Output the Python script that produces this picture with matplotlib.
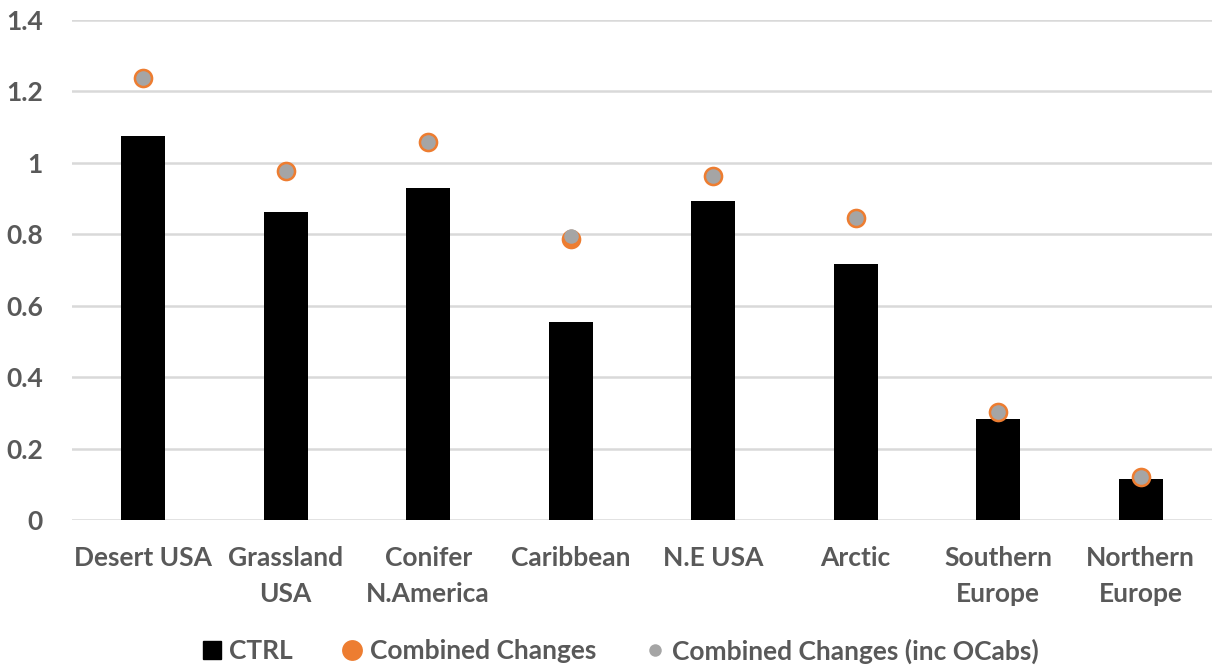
import matplotlib
matplotlib.use("Agg")
import matplotlib.pyplot as plt
from matplotlib.lines import Line2D
from matplotlib.patches import Patch

categories = ["Desert USA", "Grassland\nUSA", "Conifer\nN.America", "Caribbean",
              "N.E USA", "Arctic", "Southern\nEurope", "Northern\nEurope"]
ctrl = [1.076, 0.863, 0.930, 0.555, 0.894, 0.717, 0.283, 0.115]
combined = [1.238, 0.978, 1.059, 0.787, 0.964, 0.846, 0.303, 0.120]
combined_ocabs = [1.238, 0.978, 1.059, 0.795, 0.964, 0.846, 0.303, 0.121]
yticks = [0, 0.2, 0.4, 0.6, 0.8, 1, 1.2, 1.4]
ytick_labels = ["0", "0.2", "0.4", "0.6", "0.8", "1", "1.2", "1.4"]

ORANGE = "#ED7D31"
GREY = "#A5A5A5"
TEXT = "#595959"
GRID = "#D9D9D9"

plt.rcParams["font.family"] = ["Lato", "DejaVu Sans"]

W, H = 1212, 666
fig = plt.figure(figsize=(W / 100, H / 100), dpi=100)
ax = fig.add_axes([72 / W, (H - 520) / H, (1212 - 72) / W, 500 / H])

x = list(range(len(categories)))
ax.bar(x, ctrl, width=0.31, color="black", zorder=2)
ax.scatter(x, combined, s=200, color=ORANGE, zorder=3, linewidths=0)
ax.scatter(x, combined_ocabs, s=110, color=GREY, zorder=4, linewidths=0)

ax.set_xlim(-0.5, len(categories) - 0.5)
ax.set_ylim(0, 1.4)
ax.set_yticks(yticks)
ax.set_yticklabels(ytick_labels)
ax.set_xticks(x)
ax.set_xticklabels(categories, linespacing=1.58)
ax.yaxis.grid(True, color=GRID, linewidth=1.8, zorder=0)
ax.set_axisbelow(True)
for s in ax.spines.values():
    s.set_visible(False)
ax.tick_params(axis="both", length=0, colors=TEXT, labelsize=19)
ax.tick_params(axis="y", pad=21)
ax.tick_params(axis="x", pad=19)
for lab in ax.get_xticklabels() + ax.get_yticklabels():
    lab.set_fontweight("bold")
    lab.set_color(TEXT)

handles = [
    Patch(facecolor="black", edgecolor="black"),
    Line2D([], [], marker="o", linestyle="none", markersize=15,
           markerfacecolor=ORANGE, markeredgewidth=0),
    Line2D([], [], marker="o", linestyle="none", markersize=9,
           markerfacecolor=GREY, markeredgewidth=0),
]
labels = ["CTRL", "Combined Changes", "Combined Changes (inc OCabs)"]
leg = fig.legend(handles, labels, loc="center", ncol=3,
                 bbox_to_anchor=(621 / W, 1 - 651 / H), frameon=False,
                 handlelength=0.7, handletextpad=0.3, columnspacing=1.9,
                 prop={"size": 19, "weight": "bold"})
for t in leg.get_texts():
    t.set_color(TEXT)

fig.savefig("out.png", dpi=100)
